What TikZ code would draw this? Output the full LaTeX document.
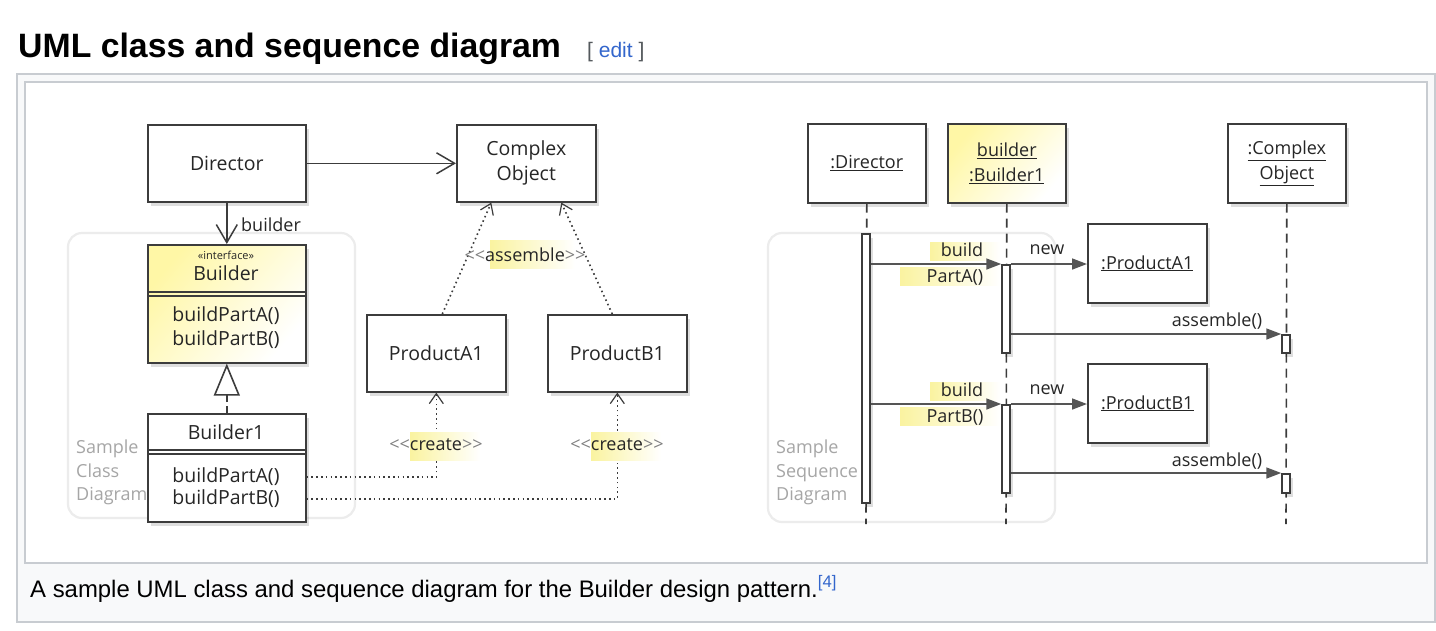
\documentclass[tikz,border=0pt]{standalone}
\usepackage{fontspec}
\setmainfont{Open Sans}
\newfontfamily\wikifont{Liberation Sans}
\usetikzlibrary{arrows.meta,shadows}
\definecolor{frameborder}{HTML}{C8CCD1}
\definecolor{framebg}{HTML}{F8F9FA}
\definecolor{linkblue}{HTML}{3366CC}
\definecolor{bracketgray}{HTML}{54595D}
\definecolor{umlline}{HTML}{3C3C3C}
\definecolor{umltext}{HTML}{262626}
\definecolor{umlyellow}{HTML}{FFF7A6}
\definecolor{hlyellow}{HTML}{FAF3A0}
\definecolor{samplegray}{HTML}{A6A6A6}
\definecolor{sampleframe}{HTML}{ECECEC}
\definecolor{seqline}{HTML}{555555}
\tikzset{
  boxshadow/.style={drop shadow={shadow xshift=3pt, shadow yshift=-4pt, opacity=0.13, fill=black}},
  classbox/.style={draw=umlline, line width=1.6pt, fill=white, inner sep=0pt, boxshadow,
    text=umltext, align=center, font=\fontsize{19.5}{25}\selectfont},
  seqbox/.style={draw=umlline, line width=1.6pt, fill=white, inner sep=0pt, boxshadow,
    text=umltext, align=center, font=\fontsize{18}{25}\selectfont},
  umltxt/.style={text=umltext, font=\fontsize{19.5}{24}\selectfont, align=center, inner sep=0pt},
  msgtxt/.style={text=umltext, font=\fontsize{18}{20}\selectfont, inner sep=0pt},
  smalltxt/.style={text=umltext, font=\fontsize{11}{12}\selectfont, inner sep=0pt},
  sampletxt/.style={text=samplegray, font=\fontsize{18}{23.5}\selectfont, align=left, inner sep=0pt},
  sampleframe/.style={draw=sampleframe, line width=2.2pt, rounded corners=14pt, fill=white},
  yellowfill/.style={top color=umlyellow, bottom color=white, shading angle=50},
  compline/.style={draw=umlline, line width=1.1pt},
  assoc/.style={draw=umlline, line width=1.6pt, -{Straight Barb[length=18pt,width=21pt,line width=1.5pt]}},
  realize/.style={draw=umlline, line width=1.6pt, dash pattern=on 7pt off 4pt, -{Triangle[open,length=32pt,width=26pt,line width=1.6pt]}},
  depend/.style={draw=umlline, line width=1.6pt, dash pattern=on 1.6pt off 3.2pt, -{Straight Barb[length=10pt,width=14pt,line width=1.2pt]}},
  lifeline/.style={draw=umlline, line width=1.6pt, dash pattern=on 9pt off 6pt},
  actbar/.style={draw=umlline, line width=1.5pt, fill=white, minimum width=8pt, inner sep=0pt, anchor=north, boxshadow},
  msg/.style={draw=seqline, line width=1.6pt, -{Triangle[length=15pt,width=11pt]}},
  hl/.style={left color=hlyellow, right color=white, inner sep=0pt, anchor=west},
}
\newcommand{\ltlt}{\textcolor{gray}{{<}{<}}}
\newcommand{\gtgt}{\textcolor{gray}{{>}{>}}}
\begin{document}
\begin{tikzpicture}[x=1pt,y=-1pt]
\useasboundingbox (0,0) rectangle (1436,630);
\fill[white] (0,0) rectangle (1436,630);
% page heading
\node[anchor=base west, inner sep=0pt, font=\wikifont\fontsize{33.8}{36}\selectfont\bfseries] (title) at (18,57) {UML class and sequence diagram};
\node[anchor=base west, inner sep=0pt, font=\wikifont\fontsize{21}{24}\selectfont] (edit) at (587,57) {\textcolor{bracketgray}{[} \textcolor{linkblue}{edit} \textcolor{bracketgray}{]}};
% thumbnail frames
\draw[frameborder, fill=framebg, line width=2pt] (17,74) rectangle (1435,622);
\draw[frameborder, fill=white, line width=2pt] (25,81.5) rectangle (1427,563);
\node[anchor=base west, inner sep=0pt, font=\wikifont\fontsize{23.9}{26}\selectfont] (caption) at (30,597) {A sample UML class and sequence diagram for the Builder design pattern.\textsuperscript{\textcolor{linkblue}{[4]}}};

% ---------- class diagram ----------
\draw[sampleframe] (68,233) rectangle (355,518);
\node[sampletxt, anchor=north west] (classsample) at (76,440) {Sample\\Class\\Diagram};

\node[classbox, minimum width=158pt, minimum height=77pt, anchor=north west] (director) at (147,124) {Director};
\node[classbox, minimum width=139pt, minimum height=77pt, anchor=north west] (co) at (456,124) {Complex\\Object};
\node[classbox, yellowfill, minimum width=158pt, minimum height=118pt, anchor=north west] (builder) at (147,244) {};
\node[smalltxt] (bstereo) at (226,255) {«interface»};
\node[umltxt] (bname) at (226,273) {Builder};
\draw[compline] ([yshift=-48pt]builder.north west) -- ([yshift=-48pt]builder.north east);
\draw[compline] ([yshift=-52pt]builder.north west) -- ([yshift=-52pt]builder.north east);
\node[umltxt] (bops) at (226,328) {buildPartA()\\buildPartB()};

\node[classbox, minimum width=158pt, minimum height=108pt, anchor=north west] (b1) at (147,413) {};
\node[umltxt] (b1name) at (226,432) {Builder1};
\draw[compline] ([yshift=-37pt]b1.north west) -- ([yshift=-37pt]b1.north east);
\draw[compline] ([yshift=-41pt]b1.north west) -- ([yshift=-41pt]b1.north east);
\node[umltxt] (b1opA) at (226,477) {buildPartA()};
\node[umltxt] (b1opB) at (226,499) {buildPartB()};

\node[classbox, minimum width=139pt, minimum height=77pt, anchor=north west] (pa) at (366,314) {ProductA1};
\node[classbox, minimum width=139pt, minimum height=77pt, anchor=north west] (pb) at (547,314) {ProductB1};

\draw[assoc] (director.east) -- (co.west);
\draw[assoc] (director.south) -- (builder.north);
\node[msgtxt, anchor=west] (rolelbl) at (241,225) {builder};
\draw[realize] (b1.north) -- (builder.south);

\draw[depend] ([xshift=6pt]pa.north) -- ([xshift=-35pt]co.south);
\draw[depend] ([xshift=-5pt]pb.north) -- ([xshift=35pt]co.south);
\draw[depend] (b1opA -| b1.east) -| (pa.south);
\draw[depend] (b1opB -| b1.east) -| (pb.south);

\node[hl, minimum width=85pt, minimum height=28pt] (asmhl) at (490,254) {};
\node[msgtxt] (asmlbl) at (525,255) {\ltlt assemble\gtgt};
\node[hl, minimum width=70pt, minimum height=28pt] (crAhl) at (410,446) {};
\node[msgtxt] (crAlbl) at (436,445) {\ltlt create\gtgt};
\node[hl, minimum width=70pt, minimum height=28pt] (crBhl) at (591,446) {};
\node[msgtxt] (crBlbl) at (617,445) {\ltlt create\gtgt};

% ---------- sequence diagram ----------
\draw[sampleframe] (768,233) rectangle (1055,522);
\node[sampletxt, anchor=north west] (seqsample) at (776,440) {Sample\\Sequence\\Diagram};

\node[seqbox, minimum width=118pt, minimum height=79pt, anchor=north west] (sdir) at (807,123) {\underline{:Director}};
\node[seqbox, yellowfill, minimum width=118pt, minimum height=79pt, anchor=north west] (sb1) at (947,123) {\underline{builder}\\\underline{:Builder1}};
\node[seqbox, minimum width=118pt, minimum height=79pt, anchor=north west] (sco) at (1227,123) {\underline{:Complex}\\\underline{Object}};
\node[seqbox, minimum width=119pt, minimum height=79pt, anchor=north west] (spa) at (1087,223) {\underline{:ProductA1}};
\node[seqbox, minimum width=119pt, minimum height=79pt, anchor=north west] (spb) at (1087,363) {\underline{:ProductB1}};

\coordinate (sdirend) at (866,524);
\coordinate (sb1end) at (1006,524);
\coordinate (scoend) at (1286,524);
\draw[lifeline] (sdir.south) -- (sdirend);
\draw[lifeline] (sb1.south) -- (sb1end);
\draw[lifeline] (sco.south) -- (scoend);

\node[actbar, minimum height=269pt] (dact) at (866,233) {};
\node[actbar, minimum height=88pt] (b1act1) at (1006,264) {};
\node[actbar, minimum height=88pt] (b1act2) at (1006,404) {};
\node[actbar, minimum height=18pt] (coact1) at (1286,334) {};
\node[actbar, minimum height=19pt] (coact2) at (1286,473) {};

\node[hl, minimum width=70pt, minimum height=18pt] (hlbA) at (930,251) {};
\node[hl, minimum width=100pt, minimum height=18pt] (hlpA) at (900,276) {};
\node[hl, minimum width=70pt, minimum height=18pt] (hlbB) at (930,391) {};
\node[hl, minimum width=100pt, minimum height=18pt] (hlpB) at (900,416) {};

\draw[msg] (dact.east |- b1act1.north) -- (b1act1.north west);
\draw[msg] (b1act1.north east) -- (b1act1.north east -| spa.west);
\draw[msg] (b1act1.east |- coact1.north) -- (coact1.north west);
\draw[msg] (dact.east |- b1act2.north) -- (b1act2.north west);
\draw[msg] (b1act2.north east) -- (b1act2.north east -| spb.west);
\draw[msg] (b1act2.east |- coact2.north) -- (coact2.north west);

\node[msgtxt] (lbA) at (962,250) {build};
\node[msgtxt] (lpA) at (955,277) {PartA()};
\node[msgtxt] (lnA) at (1047,250) {new};
\node[msgtxt] (laA) at (1217,321) {assemble()};
\node[msgtxt] (lbB) at (962,390) {build};
\node[msgtxt] (lpB) at (955,417) {PartB()};
\node[msgtxt] (lnB) at (1047,390) {new};
\node[msgtxt] (laB) at (1217,461) {assemble()};
\end{tikzpicture}
\end{document}
